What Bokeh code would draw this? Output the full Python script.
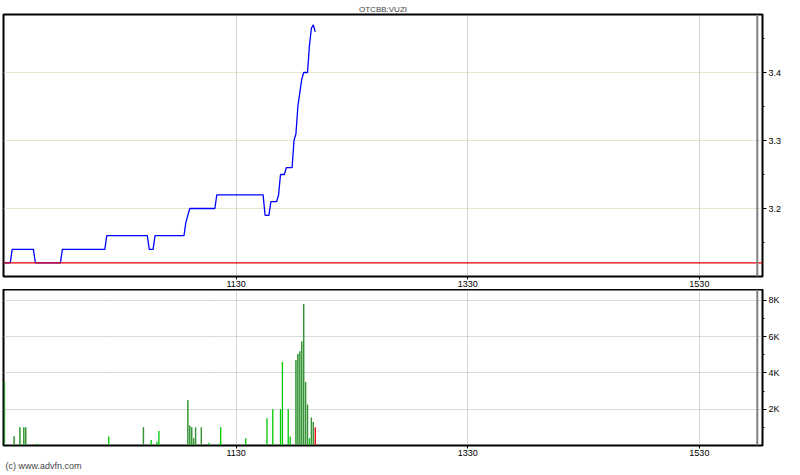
from bokeh.plotting import figure
from bokeh.layouts import column
from bokeh.models import FixedTicker, Span, Range1d, Title, ColumnDataSource
from bokeh.embed import file_html
from bokeh.resources import INLINE

# ---------------- data ----------------
title_text = "OTCBB:VUZI"
copyright_text = "(c) www.advfn.com"

price_times = ["09:30", "09:33", "09:34", "09:45", "09:46", "09:59", "10:00", "10:22", "10:23",
               "10:44", "10:45", "10:47", "10:48", "11:03", "11:04", "11:06", "11:19", "11:20",
               "11:44", "11:45", "11:47", "11:48", "11:51", "11:52", "11:53", "11:55", "11:56",
               "11:59", "12:00", "12:01", "12:02", "12:03", "12:04", "12:05", "12:07", "12:08",
               "12:09", "12:10", "12:11"]
price_values = [3.12, 3.12, 3.14, 3.14, 3.12, 3.12, 3.14, 3.14, 3.16,
                3.16, 3.14, 3.14, 3.16, 3.16, 3.18, 3.20, 3.20, 3.22,
                3.22, 3.19, 3.19, 3.21, 3.21, 3.22, 3.25, 3.25, 3.26,
                3.26, 3.30, 3.31, 3.35, 3.37, 3.39, 3.40, 3.40, 3.44,
                3.465, 3.47, 3.46]
prev_close = 3.12
session_close = "16:00"

vol_times = ["09:30", "09:35", "09:38", "09:40", "09:41", "09:47", "10:24", "10:42", "10:46",
             "10:49", "10:50", "11:05", "11:06", "11:07", "11:08", "11:09", "11:12", "11:16",
             "11:21", "11:22", "11:35", "11:46", "11:49", "11:53", "11:54", "11:57", "11:58",
             "12:01", "12:02", "12:03", "12:04", "12:05", "12:06", "12:07", "12:08", "12:09",
             "12:10", "12:11"]
vol_values = [3500, 500, 1000, 1000, 1000, 100, 500, 1000, 300,
              200, 800, 2500, 1100, 1000, 400, 1000, 1000, 150,
              100, 1000, 400, 1500, 2000, 2000, 4600, 2000, 500,
              4700, 5050, 5200, 5750, 7800, 3500, 2250, 400, 1550,
              1300, 1000]
vol_kind = ["d", "d", "d", "d", "d", "g", "g", "d", "g",
            "g", "g", "d", "d", "d", "d", "d", "d", "g",
            "g", "g", "g", "g", "g", "g", "g", "g", "g",
            "d", "d", "d", "d", "d", "d", "d", "g", "d",
            "d", "r"]

x_tick_times = ["11:30", "13:30", "15:30"]
x_tick_labels = ["1130", "1330", "1530"]
price_ticks = [3.2, 3.3, 3.4]
price_tick_labels = ["3.2", "3.3", "3.4"]
price_minor = [3.15, 3.25, 3.35, 3.45]
vol_ticks = [2000, 4000, 6000, 8000]
vol_tick_labels = ["2K", "4K", "6K", "8K"]
vol_minor = [1000, 3000, 5000, 7000]


def to_min(t):
    h, m = t.split(":")
    return int(h) * 60 + int(m)


xt = [to_min(t) for t in x_tick_times]
FONT = "Liberation Sans"

x_range = Range1d(569.5, 962.7)


def style(p, yt, yl, ym, hgrid_color):
    p.outline_line_color = "black"
    p.outline_line_width = 2
    p.background_fill_color = "white"
    p.border_fill_color = "white"
    p.xgrid.ticker = FixedTicker(ticks=xt)
    p.xgrid.grid_line_color = "#a8a8a8"
    p.xgrid.grid_line_dash = "1 1"
    p.ygrid.ticker = FixedTicker(ticks=yt)
    p.ygrid.grid_line_color = hgrid_color
    p.ygrid.grid_line_dash = "1 1"
    xa = p.xaxis[0]
    xa.ticker = FixedTicker(ticks=xt, minor_ticks=[])
    xa.major_label_overrides = {t: l for t, l in zip(xt, x_tick_labels)}
    xa.major_tick_out = 3
    xa.major_tick_in = 0
    xa.minor_tick_out = 0
    xa.major_label_standoff = 1
    xa.axis_line_color = "black"
    xa.major_tick_line_color = "black"
    xa.major_label_text_font = FONT
    xa.major_label_text_font_size = "9px"
    xa.major_label_text_color = "black"
    ya = p.yaxis[0]
    ya.ticker = FixedTicker(ticks=yt, minor_ticks=ym)
    ya.major_label_overrides = {t: l for t, l in zip(yt, yl)}
    ya.major_tick_out = 4
    ya.major_tick_in = 0
    ya.minor_tick_out = 2
    ya.minor_tick_in = 0
    ya.major_label_standoff = 2
    ya.axis_line_color = "black"
    ya.major_label_text_font = FONT
    ya.major_label_text_font_size = "9px"
    ya.major_label_text_color = "black"


# ---------------- price panel ----------------
p1 = figure(frame_width=759, frame_height=262, x_range=x_range,
            y_range=Range1d(3.10, 3.4853), y_axis_location="right",
            output_backend="svg", toolbar_location=None,
            min_border_left=3, min_border_right=25, min_border_top=14, min_border_bottom=0)
p1.title.text = title_text
p1.title.align = "center"
p1.title.text_font = FONT
p1.title.text_font_size = "8px"
p1.title.text_font_style = "normal"
p1.title.standoff = 1
style(p1, price_ticks, price_tick_labels, price_minor, "#c8c8a0")

p1.add_layout(Span(location=prev_close, dimension="width", line_color="#e00000", line_width=1.2))
p1.add_layout(Span(location=to_min(session_close), dimension="height", line_color="#808080", line_width=2))
p1.line([to_min(t) for t in price_times], price_values, line_color="#0000ff", line_width=1.3)

# ---------------- volume panel ----------------
p2 = figure(frame_width=759, frame_height=156, x_range=x_range,
            y_range=Range1d(0, 8600), y_axis_location="right",
            output_backend="svg", toolbar_location=None,
            min_border_left=3, min_border_right=25, min_border_top=0, min_border_bottom=0)
style(p2, vol_ticks, vol_tick_labels, vol_minor, "#a8b8b8")
p2.add_layout(Span(location=to_min(session_close), dimension="height", line_color="#808080", line_width=2))

for kind, col in (("g", "#00c800"), ("d", "#00b000"), ("r", "#e00000")):
    xs = [to_min(t) for t, k in zip(vol_times, vol_kind) if k == kind]
    vs = [v for v, k in zip(vol_values, vol_kind) if k == kind]
    src = ColumnDataSource(dict(x=xs, y0=[0] * len(xs), y1=vs))
    p2.segment(x0="x", y0="y0", x1="x", y1="y1", source=src, line_color=col, line_width=1.3)
    if kind == "d":
        p2.segment(x0="x", y0="y0", x1="x", y1="y1", source=src, line_color="#707070",
                   line_width=1.3, line_dash="1 1")

p2.add_layout(Title(text=copyright_text, align="left", text_font=FONT, text_font_size="9px",
                    text_font_style="normal", standoff=1, offset=2), "below")

layout = column(p1, p2, spacing=0)
open("out.html", "w").write(file_html(layout, INLINE))
